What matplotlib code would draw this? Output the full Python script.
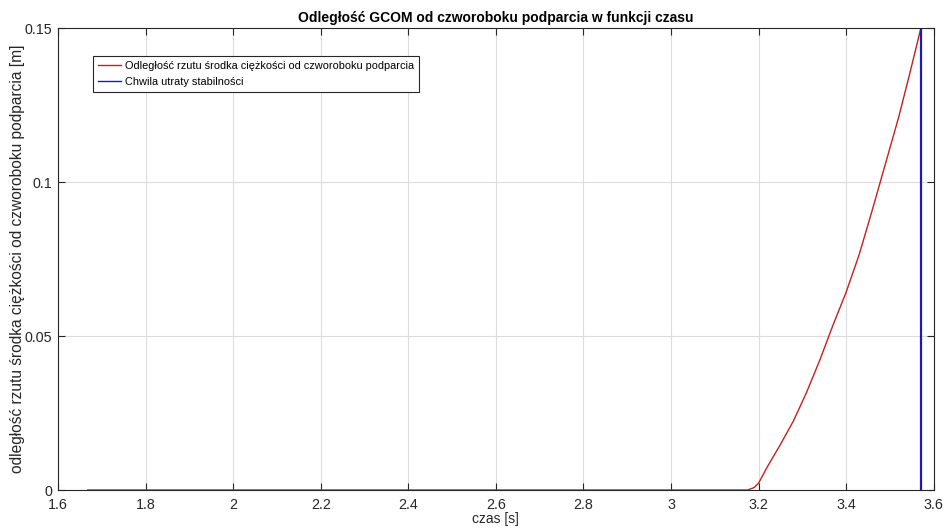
import numpy as np
import matplotlib
matplotlib.use('Agg')
import matplotlib.pyplot as plt

plt.rcParams['font.family'] = ['Liberation Sans', 'DejaVu Sans']

# dane
czas = [1.668, 3.175, 3.19, 3.20, 3.22, 3.25, 3.28, 3.31, 3.34, 3.37, 3.40,
        3.43, 3.46, 3.49, 3.52, 3.545, 3.57]
odl = [0.0, 0.0, 0.0008, 0.0022, 0.0075, 0.0148, 0.0225, 0.0318, 0.0422, 0.0535,
       0.0642, 0.0765, 0.0910, 0.1060, 0.1210, 0.1350, 0.1495]
t_utraty = 3.57
xticks = [1.6, 1.8, 2, 2.2, 2.4, 2.6, 2.8, 3, 3.2, 3.4, 3.6]
xtick_labels = ['1.6', '1.8', '2', '2.2', '2.4', '2.6', '2.8', '3', '3.2', '3.4', '3.6']
yticks = [0, 0.05, 0.1, 0.15]
ytick_labels = ['0', '0.05', '0.1', '0.15']

kolor_ax = '#262626'
fig = plt.figure(figsize=(9.45, 5.31), dpi=100)
ax = fig.add_axes([0.0614, 0.0772, 0.9266, 0.8700])

ax.plot(czas, odl, color='#c81e1e', lw=1.0,
        label='Odległość rzutu środka ciężkości od czworoboku podparcia')
ax.plot([t_utraty, t_utraty], [0, 0.15], color='#1a1ab8', lw=1.6,
        label='Chwila utraty stabilności')

ax.set_xlim(1.6, 3.6)
ax.set_ylim(0, 0.15)
ax.set_xticks(xticks)
ax.set_xticklabels(xtick_labels)
ax.set_yticks(yticks)
ax.set_yticklabels(ytick_labels)
ax.grid(True, color='#dcdcdc', lw=0.8)
ax.set_axisbelow(True)
ax.tick_params(direction='in', top=True, right=True, labelsize=10.3,
               colors=kolor_ax, length=5, width=0.8)
ax.tick_params(axis='x', pad=6)
ax.tick_params(axis='y', pad=4)
for s in ax.spines.values():
    s.set_color(kolor_ax)
    s.set_linewidth(0.8)

ax.set_title('Odległość GCOM od czworoboku podparcia w funkcji czasu',
             fontsize=10, fontweight='bold', color='black', pad=4)
ax.set_xlabel('czas [s]', fontsize=10, color=kolor_ax, labelpad=0)
ax.set_ylabel('odległość rzutu środka ciężkości od czworoboku podparcia [m]',
              fontsize=11.2, color=kolor_ax, labelpad=0)

leg = ax.legend(loc='upper left', bbox_to_anchor=(0.0396, 0.940), fontsize=7.9,
                fancybox=False, framealpha=1, edgecolor=kolor_ax,
                handlelength=2.1, handletextpad=0.35, borderpad=0.45,
                labelspacing=0.6, borderaxespad=0)
leg.get_frame().set_linewidth(0.8)
for ln in leg.get_lines():
    ln.set_linewidth(1.0)

fig.savefig('out.png', dpi=100)
